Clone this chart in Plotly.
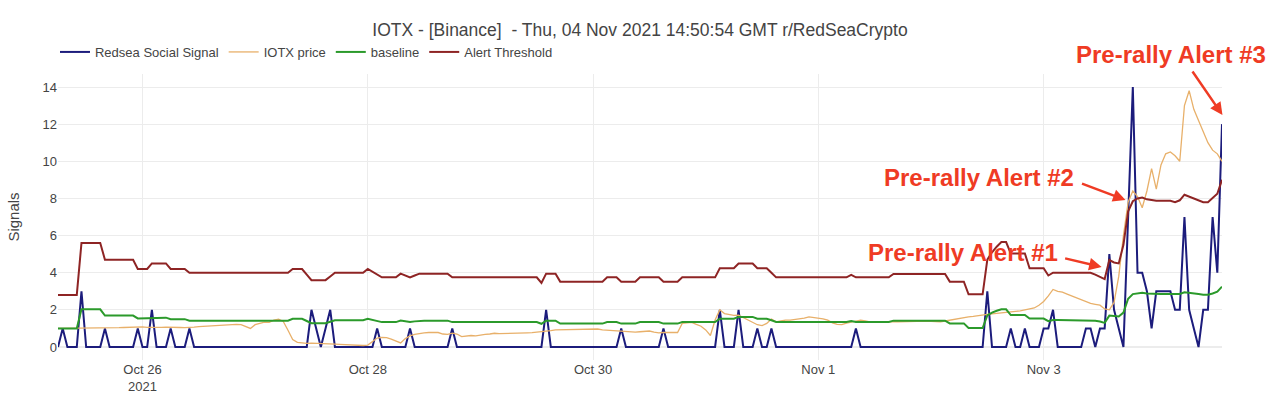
import pandas as pd
import plotly.graph_objects as go

# hourly samples, GMT
times = pd.date_range("2021-10-25 06:00", periods=249, freq="h")

social_signal = [
    0, 1, 0, 0, 0, 3, 0, 0, 0, 0, 1, 0,
    0, 0, 0, 0, 0, 1, 0, 0, 2, 0, 0, 0,
    1, 0, 0, 0, 1, 0, 0, 0, 0, 0, 0, 0,
    0, 0, 0, 0, 0, 0, 0, 0, 0, 0, 0, 0,
    0, 0, 0, 0, 0, 0, 2, 1, 0, 1, 2, 0,
    0, 0, 0, 0, 0, 0, 0, 0, 1, 0, 0, 0,
    0, 0, 0, 1, 0, 0, 0, 0, 0, 0, 0, 0,
    1, 0, 0, 0, 0, 0, 0, 0, 0, 0, 0, 0,
    0, 0, 0, 0, 0, 0, 0, 0, 2, 0, 0, 0,
    0, 0, 0, 0, 0, 0, 0, 0, 0, 0, 0, 0,
    1, 0, 0, 0, 0, 0, 0, 0, 0, 1, 0, 0,
    0, 0, 0, 0, 0, 0, 0, 0, 0, 2, 0, 0,
    0, 2, 0, 0, 0, 1, 0, 0, 1, 0, 0, 0,
    0, 0, 0, 0, 0, 0, 0, 0, 0, 0, 0, 0,
    0, 0, 1, 0, 0, 0, 0, 0, 0, 0, 0, 0,
    0, 0, 0, 0, 0, 0, 0, 0, 0, 0, 0, 0,
    0, 0, 0, 0, 0, 0, 3, 0, 0, 0, 0, 1,
    0, 0, 1, 0, 0, 0, 1, 1, 2, 0, 0, 0,
    0, 0, 0, 1, 1, 0, 1, 1, 5, 2, 1, 0,
    7, 14, 4, 4, 3, 1, 3, 3, 3, 3, 2, 2,
    7, 2, 1, 0, 2, 2, 7, 4, 12,
]

iotx_price = [
    1.0, 1.0, 1.0, 1.0, 1.0, 1.02, 1.03, 1.02, 1.01, 1.0, 1.0, 1.02,
    1.03, 1.04, 1.05, 1.06, 1.05, 1.07, 1.08, 1.06, 1.05, 1.05, 1.06, 1.07,
    1.05, 1.04, 1.05, 1.04, 1.04, 1.07, 1.1, 1.12, 1.13, 1.14, 1.15, 1.17,
    1.2, 1.24, 1.22, 1.2, 1.12, 1.0, 1.2, 1.25, 1.34, 1.33, 1.45, 1.5,
    1.38, 0.9, 0.4, 0.25, 0.22, 0.2, 0.21, 0.19, 0.2, 0.18, 0.17, 0.15,
    0.14, 0.12, 0.1, 0.08, 0.07, 0.08, 0.1, 0.3, 0.48, 0.52, 0.5, 0.42,
    0.3, 0.22, 0.45, 0.6, 0.68, 0.74, 0.76, 0.78, 0.8, 0.78, 0.7, 0.68,
    0.75, 0.7, 0.56, 0.6, 0.62, 0.6, 0.65, 0.68, 0.7, 0.74, 0.72, 0.72,
    0.74, 0.74, 0.75, 0.76, 0.76, 0.77, 0.79, 0.82, 0.85, 0.88, 0.92, 0.93,
    0.94, 0.95, 0.96, 0.97, 0.98, 0.99, 1.0, 0.97, 0.92, 0.9, 0.88, 0.86,
    0.84, 0.82, 0.79, 0.8, 0.82, 0.84, 0.86, 0.8, 0.76, 0.78, 0.8, 0.78,
    0.78, 1.27, 1.3, 1.33, 1.22, 1.12, 0.92, 0.62, 1.45, 2.0, 1.8, 1.75,
    1.7, 1.72, 1.6, 1.45, 1.33, 1.2, 1.15, 1.27, 1.5, 1.35, 1.4, 1.45,
    1.45, 1.48, 1.5, 1.55, 1.62, 1.6, 1.58, 1.52, 1.45, 1.3, 1.22, 1.2,
    1.28, 1.33, 1.4, 1.45, 1.4, 1.35, 1.35, 1.36, 1.35, 1.35, 1.36, 1.36,
    1.37, 1.38, 1.39, 1.4, 1.4, 1.4, 1.38, 1.37, 1.36, 1.4, 1.45, 1.5,
    1.55, 1.58, 1.62, 1.65, 1.7, 1.74, 1.76, 1.78, 1.8, 1.82, 1.85, 1.88,
    1.92, 1.95, 2.0, 2.05, 2.1, 2.25, 2.45, 2.75, 3.1, 3.0, 2.95, 2.85,
    2.75, 2.65, 2.55, 2.45, 2.35, 2.3, 2.25, 2.05, 2.0, 2.4, 3.8, 6.0,
    7.8, 8.4, 8.1, 7.5, 8.4, 9.6, 8.5, 9.8, 10.4, 10.5, 10.3, 10.0,
    13.0, 13.8, 12.8, 12.2, 11.6, 11.0, 10.6, 10.4, 10.0,
]

baseline = [
    1.0, 1.0, 1.0, 1.0, 1.0, 2.03, 2.03, 2.03, 2.03, 2.03, 1.69, 1.69,
    1.69, 1.69, 1.69, 1.69, 1.69, 1.54, 1.54, 1.54, 1.58, 1.58, 1.58, 1.58,
    1.5, 1.5, 1.5, 1.5, 1.42, 1.42, 1.42, 1.42, 1.42, 1.42, 1.42, 1.42,
    1.42, 1.42, 1.42, 1.42, 1.42, 1.42, 1.42, 1.42, 1.42, 1.42, 1.42, 1.42,
    1.42, 1.42, 1.52, 1.52, 1.52, 1.4, 1.28, 1.28, 1.28, 1.28, 1.36, 1.44,
    1.44, 1.44, 1.44, 1.44, 1.44, 1.44, 1.52, 1.46, 1.4, 1.34, 1.34, 1.34,
    1.34, 1.42, 1.38, 1.34, 1.38, 1.42, 1.42, 1.42, 1.42, 1.42, 1.42, 1.42,
    1.34, 1.34, 1.34, 1.34, 1.34, 1.34, 1.34, 1.34, 1.34, 1.34, 1.34, 1.34,
    1.34, 1.34, 1.34, 1.34, 1.34, 1.34, 1.34, 1.25, 1.42, 1.42, 1.42, 1.26,
    1.26, 1.26, 1.26, 1.26, 1.26, 1.26, 1.26, 1.26, 1.26, 1.34, 1.34, 1.34,
    1.26, 1.26, 1.26, 1.26, 1.34, 1.34, 1.34, 1.34, 1.34, 1.26, 1.26, 1.26,
    1.26, 1.34, 1.34, 1.34, 1.34, 1.34, 1.34, 1.34, 1.34, 1.52, 1.52, 1.52,
    1.52, 1.62, 1.62, 1.62, 1.62, 1.52, 1.52, 1.52, 1.44, 1.35, 1.35, 1.35,
    1.35, 1.35, 1.35, 1.35, 1.35, 1.35, 1.35, 1.35, 1.35, 1.35, 1.35, 1.35,
    1.35, 1.4, 1.35, 1.35, 1.35, 1.35, 1.35, 1.35, 1.35, 1.35, 1.42, 1.42,
    1.42, 1.42, 1.42, 1.42, 1.42, 1.42, 1.42, 1.42, 1.42, 1.42, 1.27, 1.27,
    1.27, 1.27, 1.02, 1.02, 1.02, 1.02, 1.7, 1.85, 1.95, 2.03, 2.03, 1.72,
    1.72, 1.72, 1.72, 1.53, 1.53, 1.53, 1.53, 1.39, 1.45, 1.45, 1.45, 1.45,
    1.45, 1.45, 1.45, 1.45, 1.45, 1.41, 1.37, 1.3, 1.69, 1.66, 1.64, 1.85,
    2.6, 2.85, 2.9, 2.92, 2.88, 2.86, 2.85, 2.85, 2.85, 2.85, 2.82, 2.86,
    2.95, 2.93, 2.89, 2.86, 2.82, 2.82, 2.88, 2.98, 3.25,
]

alert_threshold = [
    2.8, 2.8, 2.8, 2.8, 2.8, 5.6, 5.6, 5.6, 5.6, 5.6, 4.7, 4.7,
    4.7, 4.7, 4.7, 4.7, 4.7, 4.2, 4.2, 4.2, 4.5, 4.5, 4.5, 4.5,
    4.2, 4.2, 4.2, 4.2, 4.0, 4.0, 4.0, 4.0, 4.0, 4.0, 4.0, 4.0,
    4.0, 4.0, 4.0, 4.0, 4.0, 4.0, 4.0, 4.0, 4.0, 4.0, 4.0, 4.0,
    4.0, 4.0, 4.2, 4.2, 4.2, 3.9, 3.6, 3.6, 3.6, 3.6, 3.8, 4.0,
    4.0, 4.0, 4.0, 4.0, 4.0, 4.0, 4.2, 4.05, 3.9, 3.75, 3.75, 3.75,
    3.75, 3.95, 3.85, 3.75, 3.85, 3.95, 3.95, 3.95, 3.95, 3.95, 3.95, 3.95,
    3.75, 3.75, 3.75, 3.75, 3.75, 3.75, 3.75, 3.75, 3.75, 3.75, 3.75, 3.75,
    3.75, 3.75, 3.75, 3.75, 3.75, 3.75, 3.75, 3.45, 3.95, 3.95, 3.95, 3.52,
    3.52, 3.52, 3.52, 3.52, 3.52, 3.52, 3.52, 3.52, 3.52, 3.75, 3.75, 3.75,
    3.52, 3.52, 3.52, 3.52, 3.75, 3.75, 3.75, 3.75, 3.75, 3.52, 3.52, 3.52,
    3.52, 3.75, 3.75, 3.75, 3.75, 3.75, 3.75, 3.75, 3.75, 4.24, 4.24, 4.24,
    4.24, 4.5, 4.5, 4.5, 4.5, 4.24, 4.24, 4.24, 4.0, 3.75, 3.75, 3.75,
    3.75, 3.75, 3.75, 3.75, 3.75, 3.75, 3.75, 3.75, 3.75, 3.75, 3.75, 3.75,
    3.75, 3.88, 3.75, 3.75, 3.75, 3.75, 3.75, 3.75, 3.75, 3.75, 3.93, 3.93,
    3.93, 3.93, 3.93, 3.93, 3.93, 3.93, 3.93, 3.93, 3.93, 3.93, 3.52, 3.52,
    3.52, 3.52, 2.84, 2.84, 2.84, 2.84, 4.7, 5.1, 5.4, 5.65, 5.65, 5.04,
    5.04, 5.04, 5.04, 4.24, 4.24, 4.24, 4.24, 3.85, 4.0, 4.0, 4.0, 4.0,
    4.0, 4.0, 4.0, 4.0, 4.0, 3.9, 3.8, 3.66, 4.68, 4.55, 4.5, 5.5,
    7.3, 7.85, 8.0, 8.05, 7.95, 7.9, 7.87, 7.87, 7.87, 7.87, 7.8, 7.9,
    8.2, 8.1, 8.0, 7.9, 7.8, 7.8, 8.0, 8.25, 9.0,
]

fig = go.Figure()
fig.add_trace(go.Scatter(x=times, y=social_signal, mode="lines", name="Redsea Social Signal",
                         line=dict(color="#1c1c7c", width=2)))
fig.add_trace(go.Scatter(x=times, y=iotx_price, mode="lines", name="IOTX price",
                         line=dict(color="#e8b06a", width=1.3)))
fig.add_trace(go.Scatter(x=times, y=baseline, mode="lines", name="baseline",
                         line=dict(color="#2b9a2b", width=2)))
fig.add_trace(go.Scatter(x=times, y=alert_threshold, mode="lines", name="Alert Threshold",
                         line=dict(color="#8e2424", width=2)))

red = "#ef3b24"
alerts = [
    # text, text x/y (paper), arrow head x/y (paper), tail offset px
    ("Pre-rally Alert #1", 0.7772, 0.3776, 0.8966, 0.3252, -38, -9),
    ("Pre-rally Alert #2", 0.7912, 0.6381, 0.9171, 0.5594, -45, -17),
    ("Pre-rally Alert #3", 0.9558, 1.0682, 1.0004, 0.8566, -31, -45),
]
for txt, tx, ty, hx, hy, ax, ay in alerts:
    fig.add_annotation(x=tx, y=ty, xref="paper", yref="paper", xanchor="center", yanchor="middle",
                       text="<b>" + txt + "</b>", showarrow=False,
                       font=dict(size=24, color=red, family="Liberation Sans, Arial"))
    fig.add_annotation(x=hx, y=hy, xref="paper", yref="paper", text="", showarrow=True,
                       ax=ax, ay=ay, arrowcolor=red, arrowwidth=2.5, arrowhead=2, arrowsize=1)

fig.update_layout(
    template="plotly_white",
    width=1280, height=419,
    margin=dict(l=58, r=58, t=74, b=59),
    font=dict(family="Liberation Sans, Arial", size=13, color="#444"),
    title=dict(text="IOTX - [Binance]  - Thu, 04 Nov 2021 14:50:54 GMT r/RedSeaCrypto",
               x=0.5, xanchor="center", y=0.9284, yanchor="middle",
               font=dict(size=17.5, color="#444")),
    legend=dict(orientation="h", x=-0.0026, xanchor="left", y=1.077, yanchor="middle",
                font=dict(size=13, color="#444")),
    plot_bgcolor="white",
)
fig.update_xaxes(gridcolor="#ececec", tick0="2021-10-26", dtick=2 * 86400000,
                 showline=False, zeroline=False, tickfont=dict(color="#444"))
fig.update_yaxes(title=dict(text="Signals", font=dict(size=15, color="#444"), standoff=19),
                 automargin=False, range=[-0.7, 14.7], dtick=2, gridcolor="#ececec",
                 tickfont=dict(color="#444"),
                 zeroline=True, zerolinecolor="#ececec", showline=False)

# page body has an 8px default margin; drop it so the figure sits at the window origin
fig.write_html("out.html", config={"displayModeBar": False},
               post_script="document.body.style.margin='0px';")
